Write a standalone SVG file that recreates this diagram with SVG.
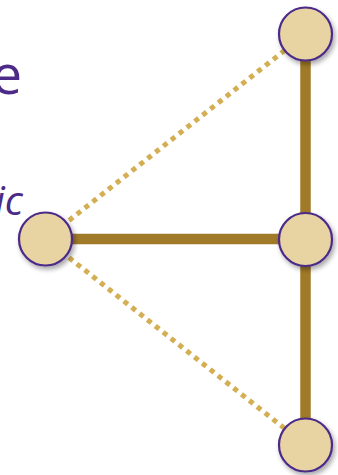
<svg xmlns="http://www.w3.org/2000/svg" width="338" height="475" viewBox="0 0 338 475">
<style>
.n{fill:#E8D3A2;stroke:#4B2A88;stroke-width:2.2}
.solid{stroke:#A07A28;stroke-width:10.5;fill:none}
.dot{stroke:#D3AE52;stroke-width:5;stroke-dasharray:5 5;fill:none}
.t{fill:#4B2A88;font-family:"Open Sans","Noto Sans",sans-serif}
</style>
<defs>
<filter id="sh" x="-30%" y="-30%" width="170%" height="170%">
<feGaussianBlur in="SourceAlpha" stdDeviation="2.5"/>
<feOffset dx="2" dy="3" result="b"/>
<feComponentTransfer><feFuncA type="linear" slope="0.35"/></feComponentTransfer>
<feMerge><feMergeNode/><feMergeNode in="SourceGraphic"/></feMerge>
</filter>
</defs>
<text class="t" x="22" y="94" font-size="54" text-anchor="end">e</text>
<text class="t" x="23" y="215" font-size="40" font-style="italic" text-anchor="end">ic</text>
<g id="connectors">
<line class="dot" x1="45.5" y1="239" x2="305.5" y2="34"/>
<line class="dot" x1="45.5" y1="239" x2="305.5" y2="445"/>
<line class="solid" x1="305.5" y1="34" x2="305.5" y2="445"/>
<line class="solid" x1="45.5" y1="239" x2="305.5" y2="239"/>
</g>
<g id="n-top"><circle class="n" cx="305.5" cy="34" r="26.5" filter="url(#sh)"/></g>
<g id="n-mid"><circle class="n" cx="305.5" cy="239.5" r="26.5" filter="url(#sh)"/></g>
<g id="n-bot"><circle class="n" cx="305.5" cy="445" r="26.5" filter="url(#sh)"/></g>
<g id="n-left"><circle class="n" cx="45.5" cy="239" r="26.5" filter="url(#sh)"/></g>
</svg>
